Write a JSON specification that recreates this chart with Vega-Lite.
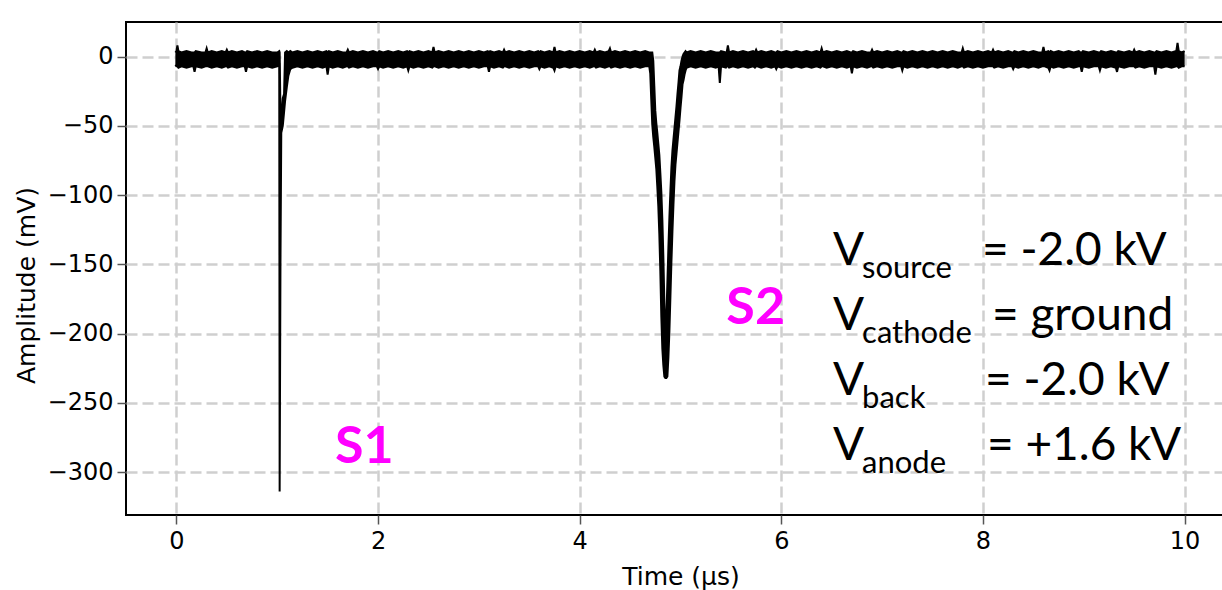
{
  "$schema": "https://vega.github.io/schema/vega-lite/v6.json",
  "width": 1109,
  "height": 493,
  "autosize": {"type": "none"},
  "padding": {"left": 126, "top": 22, "right": 0, "bottom": 75},
  "background": "white",
  "config": {
    "view": {"stroke": "black", "strokeWidth": 2},
    "axis": {
      "grid": true,
      "gridColor": "#cfcfcf",
      "gridDash": [11, 5],
      "gridWidth": 2.5,
      "domain": false,
      "tickColor": "#555555",
      "tickSize": 9,
      "tickWidth": 1.5,
      "labelFont": "DejaVu Sans",
      "labelFontSize": 24,
      "labelColor": "#000000",
      "titleFont": "DejaVu Sans",
      "titleFontSize": 25,
      "titleFontWeight": "normal",
      "titleColor": "#000000"
    }
  },
  "datasets": {
    "trace": [
      {"t":-0.01,"lo":-6,"hi":3},{"t":0.00,"lo":-7,"hi":4},{"t":0.01,"lo":-7,"hi":8},{"t":0.02,"lo":-8,"hi":4},
      {"t":0.05,"lo":-7,"hi":3},{"t":0.10,"lo":-8,"hi":4},{"t":0.15,"lo":-7,"hi":3},{"t":0.168,"lo":-7,"hi":3},
      {"t":0.18,"lo":-11,"hi":3},{"t":0.192,"lo":-7,"hi":4},{"t":0.25,"lo":-8,"hi":3},{"t":0.288,"lo":-7,"hi":3},
      {"t":0.30,"lo":-7,"hi":6},{"t":0.312,"lo":-7,"hi":3},{"t":0.35,"lo":-8,"hi":4},{"t":0.40,"lo":-7,"hi":3},
      {"t":0.45,"lo":-8,"hi":4},{"t":0.488,"lo":-7,"hi":3},{"t":0.50,"lo":-7,"hi":5},{"t":0.512,"lo":-8,"hi":3},
      {"t":0.55,"lo":-7,"hi":4},{"t":0.60,"lo":-8,"hi":3},{"t":0.65,"lo":-7,"hi":4},{"t":0.678,"lo":-7,"hi":3},
      {"t":0.69,"lo":-11,"hi":3},{"t":0.702,"lo":-7,"hi":4},{"t":0.75,"lo":-8,"hi":3},{"t":0.80,"lo":-7,"hi":4},
      {"t":0.85,"lo":-8,"hi":3},{"t":0.90,"lo":-7,"hi":4},{"t":0.95,"lo":-8,"hi":3},{"t":1.00,"lo":-7,"hi":3},
      {"t":1.020,"lo":-6,"hi":4},{"t":1.024,"lo":-314,"hi":3},{"t":1.032,"lo":-150,"hi":-40},{"t":1.040,"lo":-55,"hi":-45},
      {"t":1.055,"lo":-50,"hi":-30},{"t":1.068,"lo":-40,"hi":-27},{"t":1.078,"lo":-32,"hi":3},{"t":1.095,"lo":-22,"hi":4},
      {"t":1.110,"lo":-14,"hi":3},{"t":1.130,"lo":-9,"hi":4},{"t":1.15,"lo":-8,"hi":3},{"t":1.20,"lo":-7,"hi":4},
      {"t":1.25,"lo":-8,"hi":3},{"t":1.30,"lo":-7,"hi":4},{"t":1.35,"lo":-8,"hi":3},{"t":1.40,"lo":-7,"hi":4},
      {"t":1.45,"lo":-8,"hi":3},{"t":1.488,"lo":-7,"hi":4},{"t":1.50,"lo":-13,"hi":3},{"t":1.512,"lo":-7,"hi":4},
      {"t":1.55,"lo":-8,"hi":3},{"t":1.60,"lo":-7,"hi":4},{"t":1.65,"lo":-8,"hi":3},{"t":1.688,"lo":-7,"hi":3},
      {"t":1.70,"lo":-7,"hi":5},{"t":1.712,"lo":-8,"hi":3},{"t":1.75,"lo":-7,"hi":4},{"t":1.80,"lo":-8,"hi":3},
      {"t":1.85,"lo":-7,"hi":4},{"t":1.90,"lo":-8,"hi":3},{"t":1.95,"lo":-7,"hi":4},{"t":1.988,"lo":-7,"hi":3},
      {"t":2.00,"lo":-9,"hi":3},{"t":2.012,"lo":-7,"hi":4},{"t":2.05,"lo":-8,"hi":3},{"t":2.10,"lo":-7,"hi":4},
      {"t":2.15,"lo":-8,"hi":3},{"t":2.20,"lo":-7,"hi":4},{"t":2.25,"lo":-8,"hi":3},{"t":2.288,"lo":-7,"hi":4},
      {"t":2.30,"lo":-10,"hi":3},{"t":2.312,"lo":-7,"hi":4},{"t":2.35,"lo":-8,"hi":3},{"t":2.40,"lo":-7,"hi":4},
      {"t":2.45,"lo":-8,"hi":3},{"t":2.50,"lo":-7,"hi":4},{"t":2.538,"lo":-8,"hi":3},{"t":2.55,"lo":-7,"hi":7},
      {"t":2.562,"lo":-7,"hi":3},{"t":2.60,"lo":-8,"hi":4},{"t":2.65,"lo":-7,"hi":3},{"t":2.70,"lo":-8,"hi":4},
      {"t":2.75,"lo":-7,"hi":3},{"t":2.80,"lo":-8,"hi":4},{"t":2.85,"lo":-7,"hi":3},{"t":2.90,"lo":-8,"hi":4},
      {"t":2.95,"lo":-7,"hi":3},{"t":3.00,"lo":-8,"hi":4},{"t":3.05,"lo":-7,"hi":3},{"t":3.088,"lo":-7,"hi":4},
      {"t":3.10,"lo":-11,"hi":3},{"t":3.112,"lo":-7,"hi":4},{"t":3.15,"lo":-8,"hi":3},{"t":3.20,"lo":-7,"hi":4},
      {"t":3.238,"lo":-8,"hi":3},{"t":3.25,"lo":-7,"hi":5},{"t":3.262,"lo":-7,"hi":3},{"t":3.30,"lo":-8,"hi":4},
      {"t":3.35,"lo":-7,"hi":3},{"t":3.40,"lo":-8,"hi":4},{"t":3.45,"lo":-7,"hi":3},{"t":3.50,"lo":-8,"hi":4},
      {"t":3.55,"lo":-7,"hi":3},{"t":3.588,"lo":-7,"hi":4},{"t":3.60,"lo":-9,"hi":3},{"t":3.612,"lo":-7,"hi":4},
      {"t":3.65,"lo":-8,"hi":3},{"t":3.70,"lo":-7,"hi":4},{"t":3.738,"lo":-8,"hi":3},{"t":3.75,"lo":-10,"hi":7},
      {"t":3.762,"lo":-7,"hi":3},{"t":3.80,"lo":-8,"hi":4},{"t":3.85,"lo":-7,"hi":3},{"t":3.90,"lo":-8,"hi":4},
      {"t":3.95,"lo":-7,"hi":3},{"t":4.00,"lo":-8,"hi":4},{"t":4.05,"lo":-7,"hi":3},{"t":4.10,"lo":-8,"hi":4},
      {"t":4.138,"lo":-7,"hi":3},{"t":4.15,"lo":-7,"hi":5},{"t":4.162,"lo":-8,"hi":3},{"t":4.20,"lo":-7,"hi":4},
      {"t":4.25,"lo":-8,"hi":3},{"t":4.288,"lo":-7,"hi":4},{"t":4.30,"lo":-7,"hi":6},{"t":4.312,"lo":-8,"hi":3},
      {"t":4.35,"lo":-7,"hi":4},{"t":4.40,"lo":-8,"hi":3},{"t":4.45,"lo":-7,"hi":4},{"t":4.50,"lo":-8,"hi":3},
      {"t":4.55,"lo":-7,"hi":4},{"t":4.60,"lo":-8,"hi":3},{"t":4.65,"lo":-7,"hi":4},{"t":4.69,"lo":-7,"hi":3},
      {"t":4.70,"lo":-12,"hi":3},{"t":4.71,"lo":-31,"hi":3},{"t":4.72,"lo":-49,"hi":3},{"t":4.73,"lo":-58,"hi":-3},
      {"t":4.74,"lo":-65,"hi":-21},{"t":4.75,"lo":-73,"hi":-39},{"t":4.76,"lo":-81,"hi":-48},{"t":4.77,"lo":-94,"hi":-55},
      {"t":4.78,"lo":-108,"hi":-63},{"t":4.79,"lo":-128,"hi":-71},{"t":4.80,"lo":-155,"hi":-84},{"t":4.81,"lo":-188,"hi":-98},
      {"t":4.82,"lo":-211,"hi":-118},{"t":4.83,"lo":-223,"hi":-145},{"t":4.84,"lo":-231,"hi":-178},{"t":4.85,"lo":-232,"hi":-201},
      {"t":4.86,"lo":-232,"hi":-188},{"t":4.87,"lo":-231,"hi":-163},{"t":4.88,"lo":-217,"hi":-138},{"t":4.89,"lo":-198,"hi":-116},
      {"t":4.90,"lo":-173,"hi":-97},{"t":4.91,"lo":-148,"hi":-80},{"t":4.92,"lo":-126,"hi":-68},{"t":4.93,"lo":-107,"hi":-60},
      {"t":4.94,"lo":-90,"hi":-52},{"t":4.95,"lo":-78,"hi":-44},{"t":4.96,"lo":-70,"hi":-36},{"t":4.97,"lo":-62,"hi":-27},
      {"t":4.98,"lo":-54,"hi":-19},{"t":4.99,"lo":-46,"hi":-10},{"t":5.00,"lo":-37,"hi":-7},{"t":5.01,"lo":-29,"hi":-3},
      {"t":5.02,"lo":-20,"hi":0},{"t":5.03,"lo":-17,"hi":2},{"t":5.04,"lo":-13,"hi":3},{"t":5.05,"lo":-10,"hi":4},
      {"t":5.06,"lo":-8,"hi":3},
      {"t":5.10,"lo":-7,"hi":4},{"t":5.15,"lo":-8,"hi":3},{"t":5.20,"lo":-7,"hi":4},{"t":5.25,"lo":-8,"hi":3},
      {"t":5.30,"lo":-7,"hi":4},{"t":5.35,"lo":-8,"hi":3},{"t":5.378,"lo":-7,"hi":3},{"t":5.39,"lo":-19,"hi":3},
      {"t":5.402,"lo":-7,"hi":4},{"t":5.45,"lo":-8,"hi":3},{"t":5.458,"lo":-7,"hi":3},{"t":5.47,"lo":-7,"hi":8},
      {"t":5.482,"lo":-8,"hi":3},{"t":5.52,"lo":-7,"hi":4},{"t":5.57,"lo":-8,"hi":3},{"t":5.62,"lo":-7,"hi":4},
      {"t":5.67,"lo":-8,"hi":3},{"t":5.72,"lo":-7,"hi":4},{"t":5.738,"lo":-8,"hi":3},{"t":5.75,"lo":-7,"hi":5},
      {"t":5.762,"lo":-7,"hi":3},{"t":5.80,"lo":-8,"hi":4},{"t":5.85,"lo":-7,"hi":3},{"t":5.90,"lo":-8,"hi":4},
      {"t":5.938,"lo":-7,"hi":3},{"t":5.95,"lo":-9,"hi":3},{"t":5.962,"lo":-7,"hi":4},{"t":6.00,"lo":-8,"hi":3},
      {"t":6.05,"lo":-7,"hi":4},{"t":6.10,"lo":-8,"hi":3},{"t":6.15,"lo":-7,"hi":4},{"t":6.20,"lo":-8,"hi":3},
      {"t":6.25,"lo":-7,"hi":4},{"t":6.30,"lo":-8,"hi":3},{"t":6.35,"lo":-7,"hi":4},{"t":6.388,"lo":-8,"hi":3},
      {"t":6.40,"lo":-7,"hi":6},{"t":6.412,"lo":-7,"hi":3},{"t":6.45,"lo":-8,"hi":4},{"t":6.50,"lo":-7,"hi":3},
      {"t":6.55,"lo":-8,"hi":4},{"t":6.60,"lo":-7,"hi":3},{"t":6.65,"lo":-8,"hi":4},{"t":6.688,"lo":-7,"hi":3},
      {"t":6.70,"lo":-12,"hi":3},{"t":6.712,"lo":-7,"hi":4},{"t":6.75,"lo":-8,"hi":3},{"t":6.80,"lo":-7,"hi":4},
      {"t":6.85,"lo":-8,"hi":3},{"t":6.888,"lo":-7,"hi":3},{"t":6.90,"lo":-7,"hi":5},{"t":6.912,"lo":-8,"hi":3},
      {"t":6.95,"lo":-7,"hi":4},{"t":7.00,"lo":-8,"hi":3},{"t":7.05,"lo":-7,"hi":4},{"t":7.10,"lo":-8,"hi":3},
      {"t":7.15,"lo":-7,"hi":4},{"t":7.188,"lo":-7,"hi":3},{"t":7.20,"lo":-10,"hi":3},{"t":7.212,"lo":-7,"hi":4},
      {"t":7.25,"lo":-8,"hi":3},{"t":7.30,"lo":-7,"hi":4},{"t":7.35,"lo":-8,"hi":3},{"t":7.40,"lo":-7,"hi":4},
      {"t":7.45,"lo":-8,"hi":3},{"t":7.50,"lo":-7,"hi":4},{"t":7.55,"lo":-8,"hi":3},{"t":7.60,"lo":-7,"hi":4},
      {"t":7.65,"lo":-8,"hi":3},{"t":7.70,"lo":-7,"hi":4},{"t":7.75,"lo":-8,"hi":3},{"t":7.788,"lo":-7,"hi":3},
      {"t":7.80,"lo":-7,"hi":6},{"t":7.812,"lo":-8,"hi":3},{"t":7.85,"lo":-7,"hi":4},{"t":7.90,"lo":-8,"hi":3},
      {"t":7.95,"lo":-7,"hi":4},{"t":8.00,"lo":-8,"hi":3},{"t":8.05,"lo":-7,"hi":4},{"t":8.088,"lo":-7,"hi":3},
      {"t":8.10,"lo":-7,"hi":5},{"t":8.112,"lo":-8,"hi":3},{"t":8.15,"lo":-7,"hi":4},{"t":8.20,"lo":-8,"hi":3},
      {"t":8.25,"lo":-7,"hi":4},{"t":8.288,"lo":-7,"hi":3},{"t":8.30,"lo":-9,"hi":3},{"t":8.312,"lo":-7,"hi":4},
      {"t":8.35,"lo":-8,"hi":3},{"t":8.40,"lo":-7,"hi":4},{"t":8.45,"lo":-8,"hi":3},{"t":8.50,"lo":-7,"hi":4},
      {"t":8.55,"lo":-8,"hi":3},{"t":8.588,"lo":-7,"hi":3},{"t":8.60,"lo":-7,"hi":7},{"t":8.612,"lo":-7,"hi":3},
      {"t":8.648,"lo":-8,"hi":4},{"t":8.66,"lo":-10,"hi":3},{"t":8.672,"lo":-7,"hi":4},{"t":8.70,"lo":-8,"hi":3},
      {"t":8.75,"lo":-7,"hi":4},{"t":8.80,"lo":-8,"hi":3},{"t":8.85,"lo":-7,"hi":4},{"t":8.90,"lo":-8,"hi":3},
      {"t":8.95,"lo":-7,"hi":4},{"t":8.968,"lo":-7,"hi":3},{"t":8.98,"lo":-11,"hi":3},{"t":8.992,"lo":-7,"hi":4},
      {"t":9.05,"lo":-8,"hi":3},{"t":9.10,"lo":-7,"hi":4},{"t":9.148,"lo":-7,"hi":3},{"t":9.16,"lo":-10,"hi":3},
      {"t":9.172,"lo":-7,"hi":4},{"t":9.22,"lo":-8,"hi":3},{"t":9.27,"lo":-7,"hi":4},{"t":9.318,"lo":-8,"hi":3},
      {"t":9.33,"lo":-11,"hi":3},{"t":9.342,"lo":-7,"hi":4},{"t":9.40,"lo":-8,"hi":3},{"t":9.45,"lo":-7,"hi":4},
      {"t":9.488,"lo":-7,"hi":3},{"t":9.50,"lo":-7,"hi":5},{"t":9.512,"lo":-8,"hi":3},{"t":9.55,"lo":-7,"hi":4},
      {"t":9.60,"lo":-8,"hi":3},{"t":9.65,"lo":-7,"hi":4},{"t":9.698,"lo":-7,"hi":3},{"t":9.71,"lo":-13,"hi":3},
      {"t":9.722,"lo":-7,"hi":4},{"t":9.77,"lo":-8,"hi":3},{"t":9.82,"lo":-7,"hi":4},{"t":9.87,"lo":-8,"hi":3},
      {"t":9.918,"lo":-7,"hi":4},{"t":9.93,"lo":-7,"hi":10},{"t":9.942,"lo":-8,"hi":4},{"t":9.97,"lo":-7,"hi":3},
      {"t":10.00,"lo":-7,"hi":4}
    ],
    "peaks": [
      {"x": 1.573, "y": -293.5, "label": "S1"},
      {"x": 5.455, "y": -193.1, "label": "S2"}
    ],
    "main": [
      {"x": 6.513, "y": -150.5, "label": "V"},
      {"x": 7.990, "y": -150.5, "label": "= -2.0 kV"},
      {"x": 6.513, "y": -197.4, "label": "V"},
      {"x": 8.089, "y": -197.4, "label": "= ground"},
      {"x": 6.513, "y": -244.4, "label": "V"},
      {"x": 8.020, "y": -244.4, "label": "= -2.0 kV"},
      {"x": 6.513, "y": -291.3, "label": "V"},
      {"x": 8.040, "y": -291.3, "label": "= +1.6 kV"}
    ],
    "subs": [
      {"x": 6.801, "y": -159.9, "label": "source"},
      {"x": 6.801, "y": -206.8, "label": "cathode"},
      {"x": 6.801, "y": -253.7, "label": "back"},
      {"x": 6.801, "y": -300.7, "label": "anode"}
    ]
  },
  "layer": [
    {
      "data": {"name": "trace"},
      "mark": {"type": "area", "color": "black"},
      "encoding": {
        "x": {
          "field": "t", "type": "quantitative",
          "scale": {"domain": [-0.5, 10.5], "nice": false, "zero": false},
          "axis": {
            "title": "Time (μs)",
            "values": [0, 2, 4, 6, 8, 10],
            "format": "d",
            "labelPadding": 5,
            "titleY": 69,
            "titleBaseline": "alphabetic"
          }
        },
        "y": {
          "field": "lo", "type": "quantitative",
          "scale": {"domain": [-331, 25], "nice": false, "zero": false},
          "axis": {
            "title": "Amplitude (mV)",
            "values": [-300, -250, -200, -150, -100, -50, 0],
            "format": "d",
            "labelPadding": 4,
            "titleX": -92,
            "titleY": 263,
            "titleAngle": -90,
            "titleAlign": "center",
            "titleBaseline": "alphabetic"
          }
        },
        "y2": {"field": "hi"}
      }
    },
    {
      "data": {"name": "trace"},
      "mark": {"type": "line", "color": "black", "strokeWidth": 2},
      "encoding": {
        "x": {"field": "t", "type": "quantitative"},
        "y": {"field": "lo", "type": "quantitative"}
      }
    },
    {
      "data": {"name": "trace"},
      "mark": {"type": "line", "color": "black", "strokeWidth": 2},
      "encoding": {
        "x": {"field": "t", "type": "quantitative"},
        "y": {"field": "hi", "type": "quantitative"}
      }
    },
    {
      "data": {"name": "peaks"},
      "mark": {"type": "text", "font": "Lato", "fontWeight": "bold", "fontSize": 52, "color": "#ff00ff", "align": "left", "baseline": "alphabetic"},
      "encoding": {
        "x": {"field": "x", "type": "quantitative"},
        "y": {"field": "y", "type": "quantitative"},
        "text": {"field": "label"}
      }
    },
    {
      "data": {"name": "main"},
      "mark": {"type": "text", "font": "Lato", "fontSize": 46, "color": "black", "align": "left", "baseline": "alphabetic"},
      "encoding": {
        "x": {"field": "x", "type": "quantitative"},
        "y": {"field": "y", "type": "quantitative"},
        "text": {"field": "label"}
      }
    },
    {
      "data": {"name": "subs"},
      "mark": {"type": "text", "font": "Lato", "fontSize": 31, "color": "black", "align": "left", "baseline": "alphabetic"},
      "encoding": {
        "x": {"field": "x", "type": "quantitative"},
        "y": {"field": "y", "type": "quantitative"},
        "text": {"field": "label"}
      }
    }
  ]
}
